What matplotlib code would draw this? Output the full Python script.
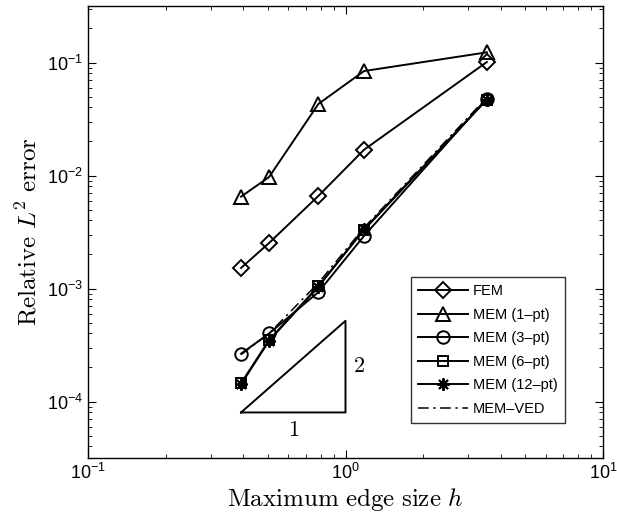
import matplotlib
matplotlib.use('Agg')
import matplotlib.pyplot as plt
import numpy as np

plt.rcParams['font.family'] = ['Liberation Sans', 'DejaVu Sans']
plt.rcParams['mathtext.fontset'] = 'cm'

# mesh sizes
h = [0.393, 0.505, 0.785, 1.18, 3.54]

# relative L2 errors
err_fem = [1.52e-3, 2.53e-3, 6.6e-3, 1.69e-2, 0.101]
err_mem1 = [6.5e-3, 9.7e-3, 4.3e-2, 8.4e-2, 0.123]
err_mem3 = [2.65e-4, 4.0e-4, 9.3e-4, 2.92e-3, 0.048]
err_mem6 = [1.45e-4, 3.5e-4, 1.05e-3, 3.3e-3, 0.047]
err_mem12 = [1.42e-4, 3.45e-4, 1.04e-3, 3.35e-3, 0.047]
err_ved = [2.6e-4, 4.0e-4, 1.12e-3, 3.45e-3, 0.049]

labels = ['FEM', 'MEM (1–pt)', 'MEM (3–pt)', 'MEM (6–pt)', 'MEM (12–pt)', 'MEM–VED']

# slope triangle corners
tri_x = [0.393, 1.0]
tri_y0 = 8e-5

fig = plt.figure(figsize=(6.17, 5.27), dpi=100)
ax = fig.add_axes([88 / 617, 1 - 458 / 527, (603 - 88) / 617, (458 - 6) / 527])

lw = 1.4
ms = 9
ax.loglog(h, err_fem, 'k-', marker='D', ms=ms * 0.85, mfc='none', mew=lw, lw=lw, label=labels[0])
ax.loglog(h, err_mem1, 'k-', marker='^', ms=ms * 1.1, mfc='none', mew=lw, lw=lw, label=labels[1])
ax.loglog(h, err_mem3, 'k-', marker='o', ms=ms, mfc='none', mew=lw, lw=lw, label=labels[2])
ax.loglog(h, err_mem6, 'k-', marker='s', ms=ms * 0.8, mfc='none', mew=lw, lw=lw, label=labels[3])
ax.loglog(h, err_mem12, 'k-', marker=(8, 2, 0), ms=ms, mew=lw, lw=lw, label=labels[4])
ax.loglog(h, err_ved, 'k', ls=(0, (7, 3, 1.5, 3)), lw=1.1, label=labels[5])

# slope triangle
x0, x1 = tri_x
y1 = tri_y0 * (x1 / x0) ** 2
ax.plot([x0, x1, x1, x0], [tri_y0, tri_y0, y1, tri_y0], 'k-', lw=1.4)
ax.text(np.sqrt(x0 * x1), tri_y0 / 1.45, '$1$', ha='center', va='center', fontsize=16)
ax.text(x1 * 1.07, np.sqrt(tri_y0 * y1), '$2$', ha='left', va='center', fontsize=16)

ax.set_xlim(0.1, 10)
ax.set_ylim(10 ** -4.5, 10 ** -0.5)
ax.tick_params(which='both', direction='in', top=True, right=True, labelsize=13)
ax.tick_params(which='major', length=6)
ax.tick_params(which='minor', length=3)
ax.xaxis.set_major_locator(matplotlib.ticker.LogLocator(base=10, numticks=10))
ax.yaxis.set_major_locator(matplotlib.ticker.LogLocator(base=10, numticks=10))
for sp in ax.spines.values():
    sp.set_linewidth(1.0)

ax.set_xlabel(r'$\mathrm{Maximum\ edge\ size}\ h$', fontsize=18, labelpad=2)
ax.set_ylabel(r'$\mathrm{Relative}\ L^2\ \mathrm{error}$', fontsize=18, labelpad=4)

leg = ax.legend(loc='lower right', bbox_to_anchor=((565 - 88) / (603 - 88), (458 - 423) / (458 - 6)),
                fontsize=10.5, frameon=True, fancybox=False, edgecolor='k', handlelength=3.4,
                handletextpad=0.35, borderpad=0.5, labelspacing=0.65, borderaxespad=0)
leg.get_frame().set_linewidth(1.0)

fig.savefig('out.png', dpi=100)
